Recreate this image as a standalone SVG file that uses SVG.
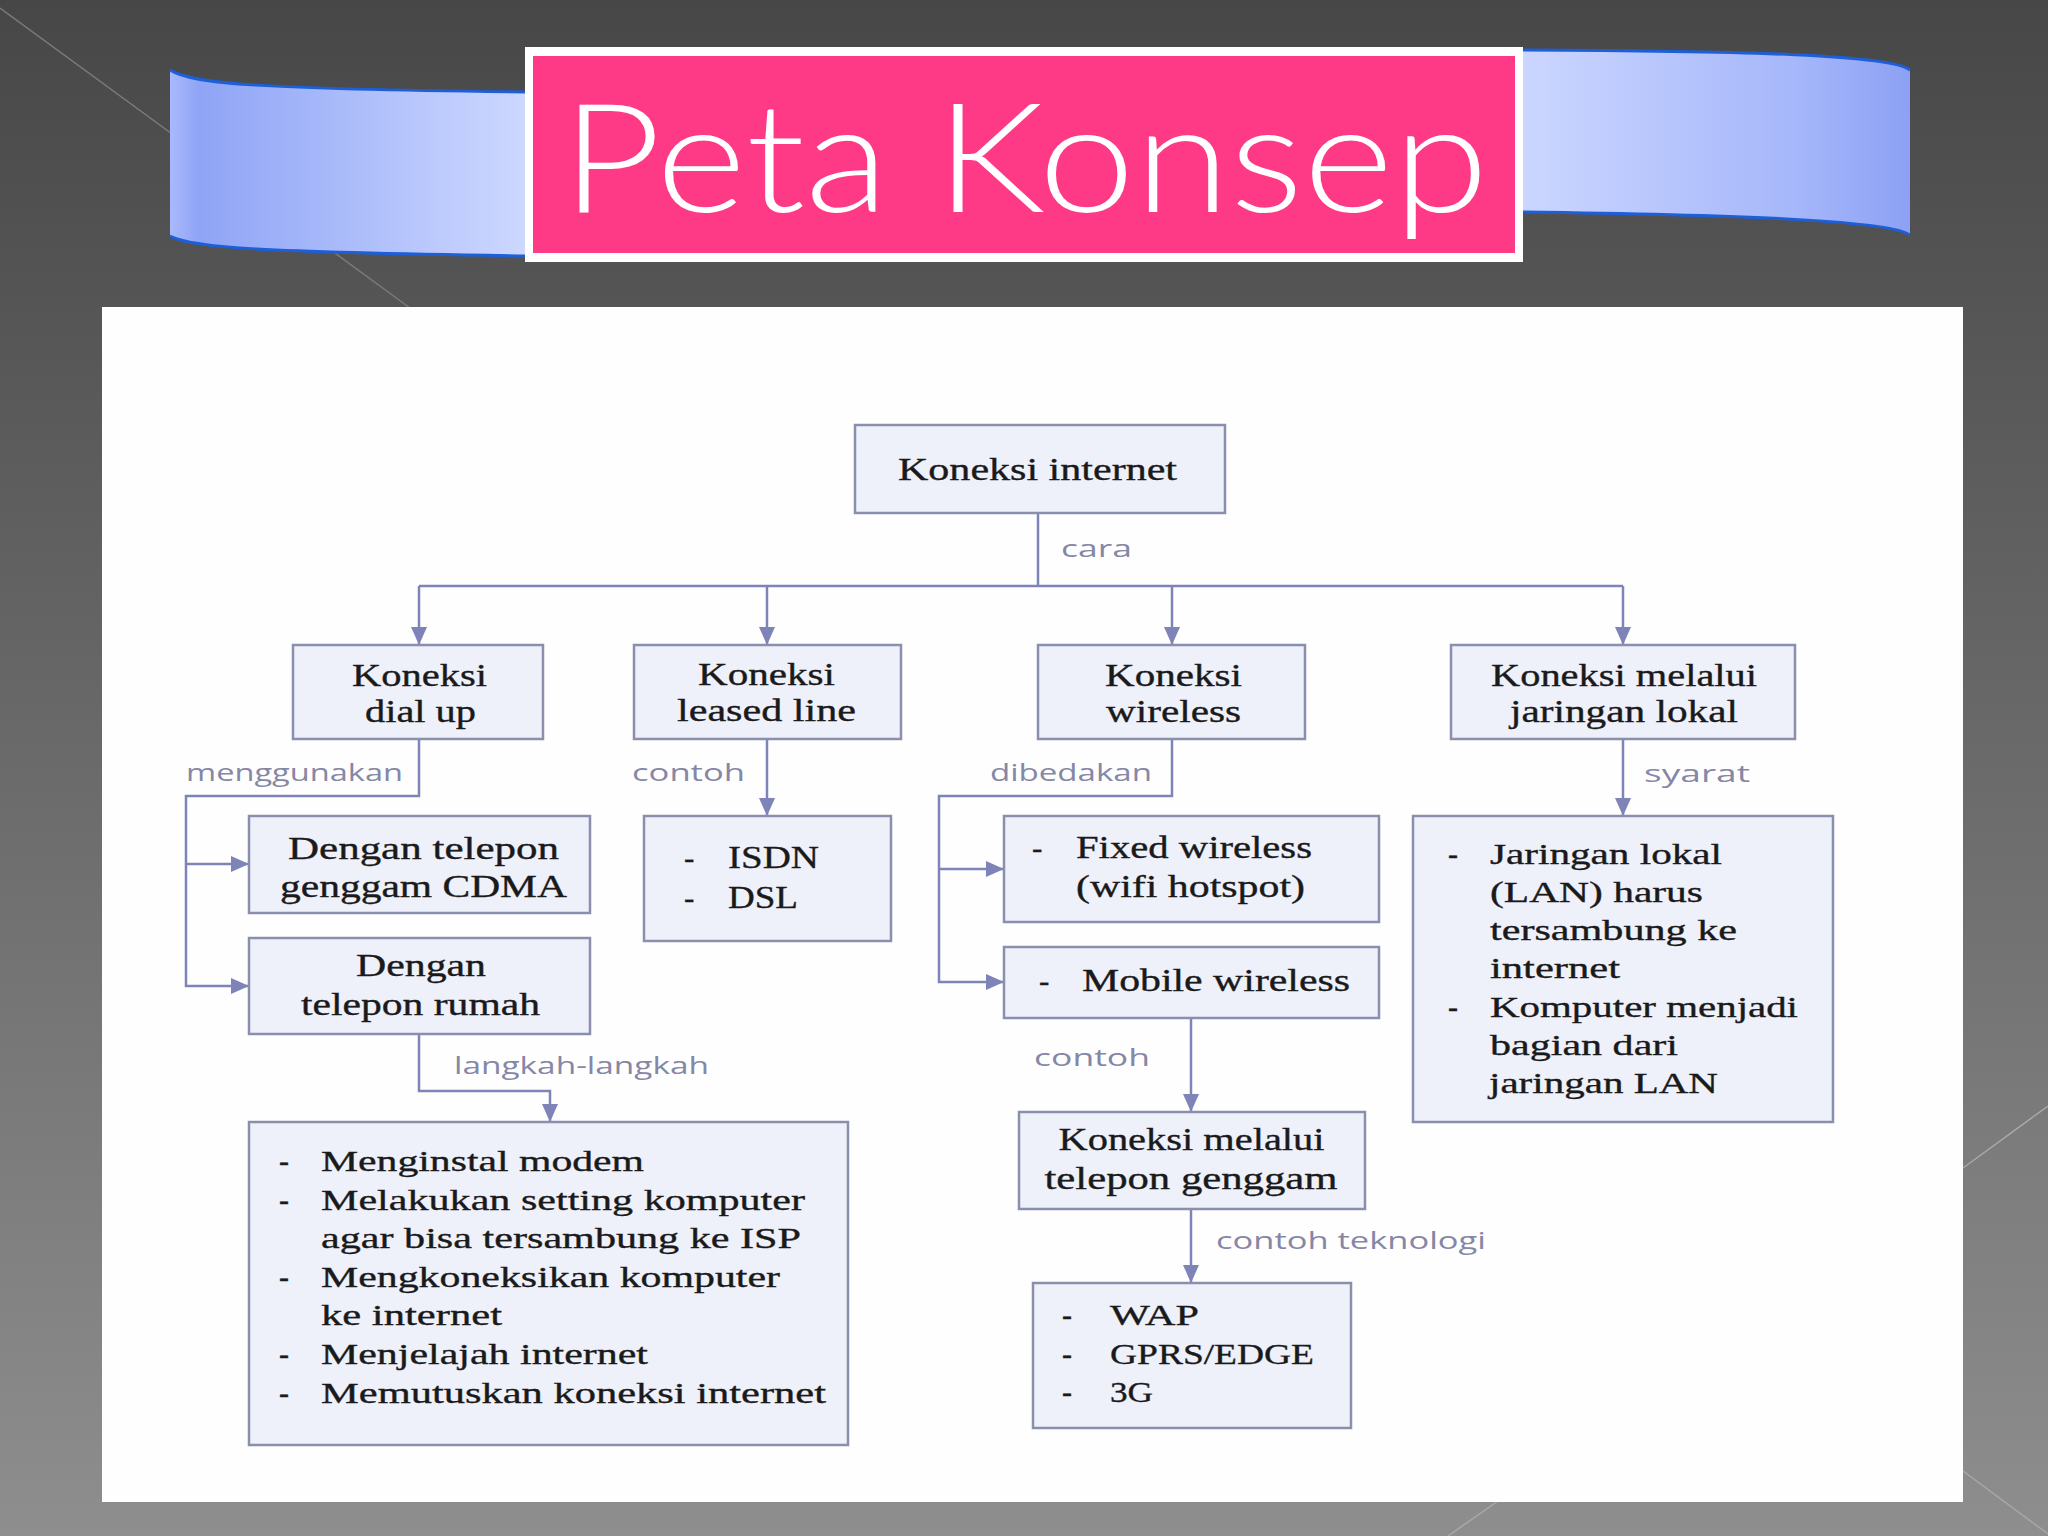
<svg xmlns="http://www.w3.org/2000/svg" width="2048" height="1536" viewBox="0 0 2048 1536">
<defs>
<linearGradient id="bg" x1="0" y1="0" x2="0" y2="1">
<stop offset="0" stop-color="#474747"/>
<stop offset="1" stop-color="#8e8e8e"/>
</linearGradient>
<linearGradient id="ribL" x1="170" y1="0" x2="527" y2="0" gradientUnits="userSpaceOnUse">
<stop offset="0" stop-color="#a9b9fb"/>
<stop offset="0.08" stop-color="#8fa4f6"/>
<stop offset="1" stop-color="#cdd8ff"/>
</linearGradient>
<linearGradient id="ribR" x1="1523" y1="0" x2="1910" y2="0" gradientUnits="userSpaceOnUse">
<stop offset="0" stop-color="#cbd6ff"/>
<stop offset="0.7" stop-color="#a6b7fa"/>
<stop offset="1" stop-color="#8ca1f4"/>
</linearGradient>
<marker id="ah" viewBox="0 0 18 16" refX="18" refY="8" markerWidth="18" markerHeight="16" markerUnits="userSpaceOnUse" orient="auto">
<path d="M0,0 L18,8 L0,16 Z" fill="#7f84b8"/>
</marker>
<style>
.box{fill:#eef0fa;stroke:#8b8fae;stroke-width:2.5}
.t{font-family:"Liberation Serif","DejaVu Serif",serif;font-size:31px;fill:#1a1a1a;stroke:#1a1a1a;stroke-width:0.35}
.s{font-size:30px}
.c{text-anchor:middle}
.lbl{font-family:"Open Sans","DejaVu Sans",sans-serif;font-size:23px;fill:#8587a6}
.conn{fill:none;stroke:#7f84b8;stroke-width:2.5}
.arr{marker-end:url(#ah)}
.deco{stroke-width:1.5;fill:none}
</style>
</defs>

<!-- background -->
<rect x="0" y="0" width="2048" height="1536" fill="url(#bg)"/>
<g id="decor">
<line class="deco" x1="0" y1="8" x2="410" y2="308" stroke="#7a7a7a"/>
<line class="deco" x1="2048" y1="1106" x2="1963" y2="1168" stroke="#a8a8a8"/>
<line class="deco" x1="1963" y1="1471" x2="2048" y2="1534" stroke="#a8a8a8"/>
<line class="deco" x1="1448" y1="1536" x2="1498" y2="1501" stroke="#a8a8a8"/>
</g>

<!-- title banner -->
<g id="banner">
<path d="M170,70 C192,84 260,89 527,92 L527,256 C260,252 192,248 170,236 Z" fill="url(#ribL)"/>
<path d="M170,70 C192,84 260,89 527,92" fill="none" stroke="#1d5fd8" stroke-width="3"/>
<path d="M170,236 C192,248 260,252 527,256" fill="none" stroke="#1d5fd8" stroke-width="3"/>
<path d="M1523,50 C1750,51 1892,55 1910,70 L1910,235 C1892,221 1750,215 1523,212 Z" fill="url(#ribR)"/>
<path d="M1523,50 C1750,51 1892,55 1910,70" fill="none" stroke="#1d5fd8" stroke-width="3"/>
<path d="M1523,212 C1750,215 1892,221 1910,235" fill="none" stroke="#1d5fd8" stroke-width="3"/>
<rect x="525" y="47" width="998" height="215" fill="#ffffff"/>
<rect x="533" y="56" width="982" height="197" fill="#fe3a86"/>
<text x="1025" y="212" text-anchor="middle" font-family="Lato,'Open Sans','DejaVu Sans',sans-serif" font-weight="300" font-size="152" fill="#ffffff" textLength="927" lengthAdjust="spacingAndGlyphs">Peta Konsep</text>
</g>

<!-- panel -->
<rect x="102" y="307" width="1861" height="1195" fill="#fefefe"/>

<!-- connectors -->
<g id="connectors">
<path class="conn" d="M1038,513 V586"/>
<path class="conn" d="M419,586 H1623"/>
<path class="conn arr" d="M419,586 V645"/>
<path class="conn arr" d="M767,586 V645"/>
<path class="conn arr" d="M1172,586 V645"/>
<path class="conn arr" d="M1623,586 V645"/>
<path class="conn arr" d="M419,739 V796 H186 V986 H249"/>
<path class="conn arr" d="M186,864 H249"/>
<path class="conn arr" d="M767,739 V816"/>
<path class="conn arr" d="M1172,739 V796 H939 V982 H1004"/>
<path class="conn arr" d="M939,869 H1004"/>
<path class="conn arr" d="M1623,739 V816"/>
<path class="conn arr" d="M419,1034 V1091 H550 V1122"/>
<path class="conn arr" d="M1191,1018 V1112"/>
<path class="conn arr" d="M1191,1209 V1283"/>
<text class="lbl" x="1061" y="557" textLength="71" lengthAdjust="spacingAndGlyphs">cara</text>
<text class="lbl" x="186" y="781" textLength="217" lengthAdjust="spacingAndGlyphs">menggunakan</text>
<text class="lbl" x="632" y="781" textLength="113" lengthAdjust="spacingAndGlyphs">contoh</text>
<text class="lbl" x="990" y="781" textLength="162" lengthAdjust="spacingAndGlyphs">dibedakan</text>
<text class="lbl" x="1644" y="782" textLength="106" lengthAdjust="spacingAndGlyphs">syarat</text>
<text class="lbl" x="454" y="1074" textLength="255" lengthAdjust="spacingAndGlyphs">langkah-langkah</text>
<text class="lbl" x="1034" y="1066" textLength="116" lengthAdjust="spacingAndGlyphs">contoh</text>
<text class="lbl" x="1216" y="1249" textLength="270" lengthAdjust="spacingAndGlyphs">contoh  teknologi</text>
</g>

<!-- nodes -->
<g id="koneksi-internet">
<rect class="box" x="855" y="425" width="370" height="88"/>
<text class="t c" x="1037.5" y="480" textLength="279" lengthAdjust="spacingAndGlyphs">Koneksi internet</text>
</g>
<g id="dial-up">
<rect class="box" x="293" y="645" width="250" height="94"/>
<text class="t c" x="419.5" y="686" textLength="135" lengthAdjust="spacingAndGlyphs">Koneksi</text>
<text class="t c" x="420.5" y="722" textLength="111" lengthAdjust="spacingAndGlyphs">dial up</text>
</g>
<g id="leased-line">
<rect class="box" x="634" y="645" width="267" height="94"/>
<text class="t c" x="766.5" y="685" textLength="137" lengthAdjust="spacingAndGlyphs">Koneksi</text>
<text class="t c" x="766.5" y="721" textLength="179" lengthAdjust="spacingAndGlyphs">leased line</text>
</g>
<g id="wireless">
<rect class="box" x="1038" y="645" width="267" height="94"/>
<text class="t c" x="1173.5" y="686" textLength="137" lengthAdjust="spacingAndGlyphs">Koneksi</text>
<text class="t c" x="1173.5" y="722" textLength="135" lengthAdjust="spacingAndGlyphs">wireless</text>
</g>
<g id="jaringan-lokal">
<rect class="box" x="1451" y="645" width="344" height="94"/>
<text class="t c" x="1624" y="686" textLength="266" lengthAdjust="spacingAndGlyphs">Koneksi melalui</text>
<text class="t c" x="1624" y="722" textLength="228" lengthAdjust="spacingAndGlyphs">jaringan lokal</text>
</g>
<g id="cdma">
<rect class="box" x="249" y="816" width="341" height="97"/>
<text class="t c" x="423.5" y="859" textLength="271" lengthAdjust="spacingAndGlyphs">Dengan telepon</text>
<text class="t c" x="423.5" y="897" textLength="287" lengthAdjust="spacingAndGlyphs">genggam CDMA</text>
</g>
<g id="telepon-rumah">
<rect class="box" x="249" y="938" width="341" height="96"/>
<text class="t c" x="421" y="976" textLength="130" lengthAdjust="spacingAndGlyphs">Dengan</text>
<text class="t c" x="420.5" y="1015" textLength="239" lengthAdjust="spacingAndGlyphs">telepon rumah</text>
</g>
<g id="isdn-dsl">
<rect class="box" x="644" y="816" width="247" height="125"/>
<text class="t" x="684" y="868">-</text>
<text class="t" x="728" y="868" textLength="91" lengthAdjust="spacingAndGlyphs">ISDN</text>
<text class="t" x="684" y="908">-</text>
<text class="t" x="728" y="908" textLength="70" lengthAdjust="spacingAndGlyphs">DSL</text>
</g>
<g id="fixed-wireless">
<rect class="box" x="1004" y="816" width="375" height="106"/>
<text class="t" x="1032" y="858">-</text>
<text class="t" x="1076" y="858" textLength="236" lengthAdjust="spacingAndGlyphs">Fixed wireless</text>
<text class="t" x="1076" y="897" textLength="229" lengthAdjust="spacingAndGlyphs">(wifi hotspot)</text>
</g>
<g id="mobile-wireless">
<rect class="box" x="1004" y="947" width="375" height="71"/>
<text class="t" x="1039" y="991">-</text>
<text class="t" x="1082" y="991" textLength="268" lengthAdjust="spacingAndGlyphs">Mobile wireless</text>
</g>
<g id="syarat-lan">
<rect class="box" x="1413" y="816" width="420" height="306"/>
<text class="t s" x="1448" y="864">-</text>
<text class="t s" x="1490" y="864" textLength="232" lengthAdjust="spacingAndGlyphs">Jaringan lokal</text>
<text class="t s" x="1490" y="902" textLength="213" lengthAdjust="spacingAndGlyphs">(LAN) harus</text>
<text class="t s" x="1490" y="940" textLength="247" lengthAdjust="spacingAndGlyphs">tersambung ke</text>
<text class="t s" x="1490" y="978" textLength="130" lengthAdjust="spacingAndGlyphs">internet</text>
<text class="t s" x="1448" y="1017">-</text>
<text class="t s" x="1490" y="1017" textLength="308" lengthAdjust="spacingAndGlyphs">Komputer menjadi</text>
<text class="t s" x="1490" y="1055" textLength="188" lengthAdjust="spacingAndGlyphs">bagian dari</text>
<text class="t s" x="1489" y="1093" textLength="229" lengthAdjust="spacingAndGlyphs">jaringan LAN</text>
</g>
<g id="telepon-genggam">
<rect class="box" x="1019" y="1112" width="346" height="97"/>
<text class="t c" x="1191.5" y="1150" textLength="266" lengthAdjust="spacingAndGlyphs">Koneksi melalui</text>
<text class="t c" x="1191" y="1189" textLength="293" lengthAdjust="spacingAndGlyphs">telepon genggam</text>
</g>
<g id="teknologi">
<rect class="box" x="1033" y="1283" width="318" height="145"/>
<text class="t s" x="1062" y="1325">-</text>
<text class="t s" x="1110" y="1325" textLength="89" lengthAdjust="spacingAndGlyphs">WAP</text>
<text class="t s" x="1062" y="1364">-</text>
<text class="t s" x="1110" y="1364" textLength="204" lengthAdjust="spacingAndGlyphs">GPRS/EDGE</text>
<text class="t s" x="1062" y="1402">-</text>
<text class="t s" x="1110" y="1402" textLength="43" lengthAdjust="spacingAndGlyphs">3G</text>
</g>
<g id="langkah">
<rect class="box" x="249" y="1122" width="599" height="323"/>
<text class="t s" x="279" y="1171">-</text>
<text class="t s" x="321" y="1171" textLength="323" lengthAdjust="spacingAndGlyphs">Menginstal modem</text>
<text class="t s" x="279" y="1209.5">-</text>
<text class="t s" x="321" y="1209.5" textLength="484" lengthAdjust="spacingAndGlyphs">Melakukan setting komputer</text>
<text class="t s" x="321" y="1248" textLength="480" lengthAdjust="spacingAndGlyphs">agar bisa tersambung ke ISP</text>
<text class="t s" x="279" y="1287">-</text>
<text class="t s" x="321" y="1287" textLength="459" lengthAdjust="spacingAndGlyphs">Mengkoneksikan komputer</text>
<text class="t s" x="321" y="1325" textLength="181" lengthAdjust="spacingAndGlyphs">ke internet</text>
<text class="t s" x="279" y="1364">-</text>
<text class="t s" x="321" y="1364" textLength="327" lengthAdjust="spacingAndGlyphs">Menjelajah internet</text>
<text class="t s" x="279" y="1403">-</text>
<text class="t s" x="321" y="1403" textLength="505" lengthAdjust="spacingAndGlyphs">Memutuskan koneksi internet</text>
</g>
</svg>
